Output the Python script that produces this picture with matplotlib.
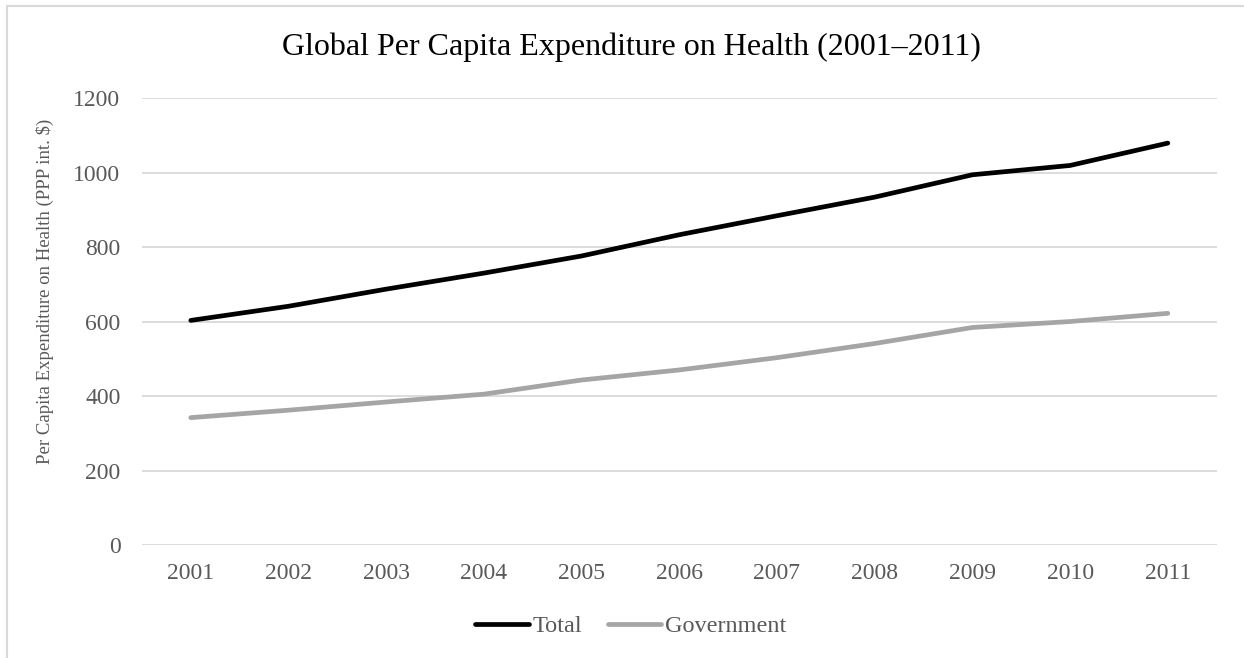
import matplotlib
matplotlib.use('Agg')
import matplotlib.pyplot as plt
from matplotlib.patches import Rectangle

years = ['2001', '2002', '2003', '2004', '2005', '2006', '2007', '2008', '2009', '2010', '2011']
total = [603, 641, 687, 730, 776, 833, 884, 934, 994, 1019, 1079]
government = [342, 362, 384, 405, 443, 470, 503, 541, 584, 600, 622]

plt.rcParams['font.family'] = ['Liberation Serif', 'DejaVu Serif']
text_gray = '#595959'

fig = plt.figure(figsize=(12.44, 6.58), dpi=100)
ax = fig.add_axes([0.1141, 0.1717, 0.8639, 0.6793])

x = list(range(len(years)))
ax.plot(x, total, color='black', lw=3.4, solid_capstyle='round', solid_joinstyle='round', label='Total')
ax.plot(x, government, color='#a5a5a5', lw=3.4, solid_capstyle='round', solid_joinstyle='round', label='Government')

ax.set_xlim(-0.5, len(years) - 0.5)
ax.set_ylim(0, 1200)
ax.set_yticks(range(0, 1201, 200))
ax.set_xticks(x)
ax.set_xticklabels(years)
ax.grid(axis='y', color='#d9d9d9', lw=1.3)
ax.set_axisbelow(True)
for s in ax.spines.values():
    s.set_visible(False)
ax.tick_params(length=0, labelsize=17, labelcolor=text_gray)
ax.tick_params(axis='x', pad=13)
ax.tick_params(axis='y', pad=15.5)

# y label sits a little above the axes centre, like the original
fig.text(45 / 1244, 1 - 291 / 658, 'Per Capita Expenditure on Health (PPP int. $)',
         rotation=90, ha='center', va='center', fontsize=13.5, color=text_gray)
fig.text(0.5075, 1 - 47 / 658, 'Global Per Capita Expenditure on Health (2001\u20132011)',
         ha='center', va='center', fontsize=23, color='black')

leg = fig.legend(loc='center', bbox_to_anchor=(0.507, 0.048), ncol=2, frameon=False,
                 fontsize=17.5, handlelength=2.2, handletextpad=0.15, columnspacing=1.05)
for t in leg.get_texts():
    t.set_color(text_gray)

# chart border (left and top edges visible)
fig.patches.append(Rectangle((7 / 1244, -0.1), 1.2, 1.1 - 6 / 658, transform=fig.transFigure,
                             fill=False, edgecolor='#d9d9d9', lw=1.5))

fig.savefig('out.png', dpi=100)
